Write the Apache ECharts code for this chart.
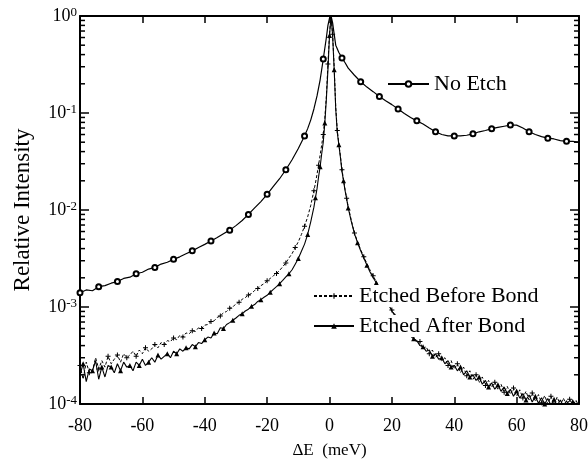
<!DOCTYPE html>
<html><head><meta charset="utf-8">
<script src="https://cdn.jsdelivr.net/npm/echarts@6/dist/echarts.min.js"></script>
<style>html,body{margin:0;padding:0;background:#fff}#c{width:588px;height:463px}</style>
</head><body><div id="c"></div>
<script>
// ---- data ----
const xNoEtch = [-80,-78,-76,-74,-72,-70,-68,-66,-64,-62,-60,-58,-56,-54,-52,-50,-48,-46,-44,-42,-40,-38,-36,-34,-32,-30,-28,-26,-24,-22,-20,-18,-16,-14,-12,-10,-8,-7,-6,-5,-4,-3,-2,-1,-0.5,0,0.5,1,1.5,2,3,4,5,6,8,10,12,14,16,18,20,22,24,26,28,30,32,34,36,38,40,42,44,46,48,50,52,54,56,58,60,62,64,66,68,70,72,74,76,78,80];
const yNoEtch = [1.40e-3,1.50e-3,1.47e-3,1.62e-3,1.66e-3,1.76e-3,1.83e-3,1.97e-3,2.03e-3,2.2e-3,2.28e-3,2.46e-3,2.56e-3,2.77e-3,2.89e-3,3.1e-3,3.29e-3,3.54e-3,3.79e-3,4.1e-3,4.42e-3,4.8e-3,5.2e-3,5.7e-3,6.2e-3,6.9e-3,7.8e-3,9.0e-3,1.05e-2,1.22e-2,1.45e-2,1.75e-2,2.1e-2,2.6e-2,3.3e-2,4.3e-2,5.8e-2,6.9e-2,8.5e-2,0.11,0.15,0.22,0.36,0.6,0.8,0.95,1.0,0.85,0.65,0.5,0.42,0.37,0.33,0.29,0.245,0.21,0.185,0.166,0.148,0.134,0.122,0.11,0.099,0.09,0.083,0.077,0.07,0.064,0.06,0.058,0.058,0.058,0.059,0.061,0.064,0.066,0.069,0.071,0.073,0.075,0.075,0.07,0.064,0.06,0.057,0.055,0.054,0.052,0.051,0.051,0.05];

const xEtch = [-80,-79,-78,-77,-76,-75,-74,-73,-72,-71,
 -70,-69,-68,-67,-66,-65,-64,-63,-62,-61,
 -60,-59,-58,-57,-56,-55,-54,-53,-52,-51,
 -50,-49,-48,-47,-46,-45,-44,-43,-42,-41,
 -40,-39,-38,-37,-36,-35,-34,-33,-32,-31,
 -30,-29,-28,-27,-26,-25,-24,-23,-22,-21,
 -20,-19,-18,-17,-16,-15,-14,-13,-12,-11,
 -10,-9,-8,-7,-6,-5,
 -4.5,-4,-3.5,-3,-2.5,-2,-1.5,-1,-0.5,0,0.5,
 1,1.5,2,2.5,3,3.5,4,4.5,5,5.5,
 6,7,8,9,10,11,12,13,14,15,
 16,17,18,19,20,21,22,23,24,25,
 26,27,28,29,30,31,32,33,34,35,
 36,37,38,39,40,41,42,43,44,45,
 46,47,48,49,50,51,52,53,54,55,
 56,57,58,59,60,61,62,63,64,65,
 66,67,68,69,70,71,72,73,74,75,
 76,77,78,79,80];

const yBefore = [2.5e-4,1.8e-4,2.7e-4,2.1e-4,2.2e-4,3.0e-4,2.3e-4,2.8e-4,2.4e-4,3.1e-4,
 2.6e-4,2.9e-4,3.2e-4,2.7e-4,3.3e-4,3.0e-4,3.2e-4,3.5e-4,3.1e-4,3.6e-4,
 3.3e-4,3.8e-4,3.5e-4,3.7e-4,4.1e-4,3.8e-4,4.3e-4,4.1e-4,4.5e-4,4.4e-4,
 4.8e-4,4.6e-4,5.1e-4,4.9e-4,5.4e-4,5.3e-4,5.7e-4,5.6e-4,6.1e-4,6.0e-4,
 6.5e-4,6.6e-4,7.1e-4,7.2e-4,7.8e-4,8.1e-4,8.7e-4,9.0e-4,9.7e-4,1.0e-3,
 1.08e-3,1.12e-3,1.2e-3,1.25e-3,1.33e-3,1.38e-3,1.48e-3,1.55e-3,1.66e-3,1.74e-3,
 1.86e-3,1.97e-3,2.1e-3,2.22e-3,2.38e-3,2.6e-3,2.85e-3,3.2e-3,3.55e-3,4.1e-3,
 4.7e-3,5.6e-3,6.8e-3,8.5e-3,1.12e-2,1.58e-2,
 1.9e-2,2.34e-2,2.9e-2,3.7e-2,4.7e-2,6.0e-2,8.9e-2,0.15,0.32,0.66,1.0,
 0.65,0.30,0.115,0.066,0.048,0.036,0.026,0.0205,0.0162,0.0132,
 0.0108,0.0078,0.0058,0.0047,0.0039,0.0033,0.0028,0.0024,0.0021,0.00182,
 0.0016,0.0014,0.00122,0.00107,0.00093,0.00083,0.00074,0.00068,0.00062,0.00057,
 0.00052,0.00049,4.3e-4,4.4e-4,3.7e-4,3.9e-4,3.3e-4,3.6e-4,3.0e-4,3.3e-4,
 2.8e-4,3.0e-4,2.5e-4,2.8e-4,2.3e-4,2.6e-4,2.1e-4,2.4e-4,1.95e-4,2.2e-4,
 1.8e-4,2.0e-4,1.65e-4,1.9e-4,1.55e-4,1.75e-4,1.48e-4,1.68e-4,1.4e-4,1.6e-4,
 1.32e-4,1.52e-4,1.26e-4,1.46e-4,1.2e-4,1.4e-4,1.15e-4,1.35e-4,1.1e-4,1.3e-4,
 1.06e-4,1.25e-4,1.03e-4,1.22e-4,1.0e-4,1.2e-4,0.98e-4,1.18e-4,0.97e-4,1.15e-4,
 0.96e-4,1.12e-4,0.95e-4,1.1e-4,0.94e-4];

const yAfter = [2.0e-4,2.6e-4,1.7e-4,2.3e-4,2.2e-4,2.8e-4,1.8e-4,2.4e-4,1.9e-4,2.5e-4,
 2.4e-4,2.1e-4,2.6e-4,2.2e-4,2.7e-4,2.4e-4,2.5e-4,2.2e-4,2.7e-4,2.5e-4,
 2.9e-4,2.5e-4,2.7e-4,3.0e-4,2.7e-4,3.2e-4,2.9e-4,3.1e-4,3.3e-4,3.0e-4,
 3.5e-4,3.3e-4,3.7e-4,3.5e-4,3.8e-4,3.7e-4,4.1e-4,3.9e-4,4.3e-4,4.2e-4,
 4.6e-4,4.9e-4,4.8e-4,5.4e-4,5.3e-4,6.1e-4,6.0e-4,6.6e-4,6.9e-4,7.3e-4,
 7.7e-4,8.2e-4,8.5e-4,9.1e-4,9.5e-4,1.02e-3,1.06e-3,1.14e-3,1.19e-3,1.26e-3,
 1.32e-3,1.42e-3,1.52e-3,1.62e-3,1.74e-3,1.88e-3,2.04e-3,2.20e-3,2.42e-3,2.76e-3,
 3.16e-3,3.75e-3,4.45e-3,5.6e-3,7.6e-3,1.07e-2,
 1.34e-2,1.66e-2,2.2e-2,2.8e-2,3.8e-2,5.0e-2,7.9e-2,0.14,0.28,0.63,1.0,
 0.63,0.28,0.11,0.063,0.047,0.035,0.025,0.020,0.0158,0.0130,
 0.0105,0.0076,0.0057,0.0046,0.0038,0.0032,0.0027,0.0023,0.0020,0.00178,
 0.00156,0.00138,0.0012,0.00105,0.00091,0.00081,0.00073,0.00066,0.0006,0.00055,
 0.0005,0.00047,4.5e-4,4.0e-4,3.9e-4,3.5e-4,3.6e-4,3.1e-4,3.3e-4,2.9e-4,
 3.0e-4,2.6e-4,2.8e-4,2.4e-4,2.5e-4,2.2e-4,2.4e-4,2.0e-4,2.2e-4,1.9e-4,
 2.0e-4,1.75e-4,1.9e-4,1.6e-4,1.75e-4,1.5e-4,1.65e-4,1.42e-4,1.58e-4,1.35e-4,
 1.5e-4,1.28e-4,1.42e-4,1.2e-4,1.36e-4,1.15e-4,1.28e-4,1.1e-4,1.24e-4,1.05e-4,
 1.2e-4,1.02e-4,1.16e-4,1.0e-4,1.14e-4,0.97e-4,1.12e-4,0.96e-4,1.1e-4,0.95e-4,
 1.08e-4,0.93e-4,1.06e-4,0.92e-4,1.04e-4];

const xMin = -80, xMax = 80, xStep = 20;
const yMin = 1e-4, yMax = 1;
const seriesNames = ['No Etch', 'Etched Before Bond', 'Etched After Bond'];

// ---- chart ----
const FONT = '"Liberation Serif", "Times New Roman", serif';
const pairs = (xs, ys) => xs.map((x, i) => [x, ys[i]]);
const minorTicks = [];
for (let e = -4; e < 0; e++) for (let m = 2; m <= 9; m++) minorTicks.push([xMin, m * Math.pow(10, e)]);

const axisLine = {show: true, onZero: false, lineStyle: {color: '#000', width: 2}};
const chart = echarts.init(document.getElementById('c'), null, {renderer: 'canvas'});
chart.setOption({
  animation: false,
  backgroundColor: '#fff',
  grid: {left: 80, right: 9, top: 16, bottom: 59, containLabel: false, outerBoundsMode: 'none'},
  xAxis: [
    {type: 'value', min: xMin, max: xMax, interval: xStep, position: 'bottom',
     name: 'ΔE  (meV)', nameLocation: 'middle', nameGap: 38,
     nameTextStyle: {fontFamily: FONT, fontSize: 17, color: '#000'},
     axisLine: axisLine,
     axisTick: {show: true, inside: true, length: 7, lineStyle: {color: '#000', width: 1.5}},
     axisLabel: {fontFamily: FONT, fontSize: 18, color: '#000', margin: 13},
     splitLine: {show: false}},
    {type: 'value', min: xMin, max: xMax, interval: xStep, position: 'top',
     axisLine: axisLine,
     axisTick: {show: true, inside: true, length: 7, lineStyle: {color: '#000', width: 1.5}},
     axisLabel: {show: false}, splitLine: {show: false}}
  ],
  yAxis: [
    {type: 'log', logBase: 10, min: yMin, max: yMax, splitNumber: 4, position: 'left',
     name: 'Relative Intensity', nameLocation: 'middle', nameGap: 46,
     nameTextStyle: {fontFamily: FONT, fontSize: 23, color: '#000'},
     axisLine: axisLine,
     axisTick: {show: true, inside: true, length: 9, lineStyle: {color: '#000', width: 1.5}},
     axisLabel: {margin: 3, color: '#000',
       formatter: v => '{b|10}{s|' + Math.round(Math.log10(v)) + '}',
       rich: {b: {fontFamily: FONT, fontSize: 18, lineHeight: 20, color: '#000'},
              s: {fontFamily: FONT, fontSize: 13, lineHeight: 10, verticalAlign: 'top', color: '#000'}}},
     splitLine: {show: false}},
    {type: 'log', logBase: 10, min: yMin, max: yMax, splitNumber: 4, position: 'right',
     axisLine: axisLine,
     axisTick: {show: true, inside: true, length: 9, lineStyle: {color: '#000', width: 1.5}},
     axisLabel: {show: false}, splitLine: {show: false}}
  ],
  legend: [
    {data: [seriesNames[0]], left: 387, top: 73, itemWidth: 41, itemHeight: 7, padding: 0,
     selectedMode: false, textStyle: {fontFamily: FONT, fontSize: 22, lineHeight: 22, color: '#000'}},
    {data: [seriesNames[1], seriesNames[2]], orient: 'vertical', left: 313, top: 285, itemGap: 8,
     itemWidth: 40, itemHeight: 7, padding: 0, selectedMode: false,
     textStyle: {fontFamily: FONT, fontSize: 22, lineHeight: 22, color: '#000', backgroundColor: '#fff'}}
  ],
  series: [
    {name: seriesNames[0], type: 'line', data: pairs(xNoEtch, yNoEtch),
     symbol: 'emptyCircle', showAllSymbol: true,
     symbolSize: v => ((((v[0] % 6) + 6) % 6) === 4 ? 5 : 0),
     lineStyle: {color: '#000', width: 1.2},
     itemStyle: {color: '#000', borderColor: '#000', borderWidth: 1}, z: 3},
    {name: seriesNames[1], type: 'line', data: pairs(xEtch, yBefore),
     symbol: 'path://M4,0H6V4H10V6H6V10H4V6H0V4H4Z', showAllSymbol: true,
     symbolSize: (v, p) => (p.dataIndex % 3 === 0 ? 5 : 0),
     lineStyle: {color: '#000', width: 1, type: [3, 2]},
     itemStyle: {color: '#000'}, z: 3},
    {name: seriesNames[2], type: 'line', data: pairs(xEtch, yAfter),
     symbol: 'triangle', showAllSymbol: true,
     symbolSize: (v, p) => (p.dataIndex % 3 === 1 ? 5 : 0),
     lineStyle: {color: '#000', width: 1.1},
     itemStyle: {color: '#000'}, z: 3},
    {type: 'custom', silent: true, data: minorTicks, z: 5,
     renderItem: (params, api) => {
       const v = api.value(1);
       const pl = api.coord([xMin, v]);
       const pr = api.coord([xMax, v]);
       return {type: 'group', children: [
         {type: 'line', shape: {x1: pl[0], y1: pl[1], x2: pl[0] + 5, y2: pl[1]}, style: {stroke: '#000', lineWidth: 1.5}},
         {type: 'line', shape: {x1: pr[0], y1: pr[1], x2: pr[0] - 5, y2: pr[1]}, style: {stroke: '#000', lineWidth: 1.5}}
       ]};
     }}
  ]
});
</script></body></html>
